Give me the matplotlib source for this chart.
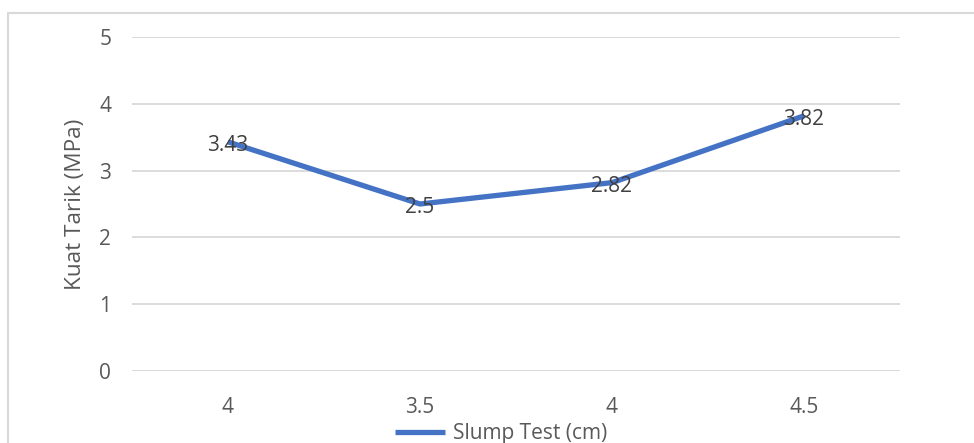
import matplotlib
matplotlib.use("Agg")
import matplotlib.pyplot as plt
from matplotlib.patches import Rectangle

plt.rcParams['font.family'] = ['Open Sans', 'DejaVu Sans']

categories = ["4", "3.5", "4", "4.5"]
kuat_tarik = [3.43, 2.5, 2.82, 3.82]
y_ticks = [0, 1, 2, 3, 4, 5]
series_name = "Slump Test (cm)"
y_label = "Kuat Tarik (MPa)"

line_color = "#4472C4"
grid_color = "#D9D9D9"
tick_color = "#595959"
label_color = "#404040"
fs = 15

fig = plt.figure(figsize=(9.74, 4.43), dpi=100)
W, H = 974, 443
ax = fig.add_axes([132 / W, 1 - 371 / H, (900 - 132) / W, (371 - 37) / H])

x = list(range(len(categories)))
ax.plot(x, kuat_tarik, color=line_color, lw=3.8, solid_capstyle="butt",
        solid_joinstyle="round", zorder=3, label=series_name)
for xi, v in zip(x, kuat_tarik):
    ax.annotate(f"{v:g}", (xi, v), xytext=(0, -2.5), textcoords="offset points",
                ha="center", va="center", fontsize=fs,
                color=label_color, zorder=4)

ax.set_xlim(-0.5, len(categories) - 0.5)
ax.set_ylim(0, 5)
ax.set_yticks(y_ticks)
ax.set_xticks(x)
ax.set_xticklabels(categories)
ax.tick_params(axis="both", length=0, labelsize=fs, labelcolor=tick_color)
ax.tick_params(axis="y", pad=15)
ax.tick_params(axis="x", pad=19)
ax.grid(axis="y", color=grid_color, lw=1.3)
ax.set_axisbelow(True)
for s in ax.spines.values():
    s.set_visible(False)

ax.set_ylabel(y_label, fontsize=16.2, color=tick_color, va="center")
ax.yaxis.set_label_coords((76 - 132) / 768, 0.5)

leg = fig.legend(loc="center", bbox_to_anchor=(501 / W, 1 - 434 / H),
                 frameon=False, fontsize=fs, handlelength=2.4,
                 handletextpad=0.35, labelcolor=tick_color)

# chart border
fig.patches.append(Rectangle((8 / W, -0.1), 1.2, 1 - 13 / H + 0.1,
                             transform=fig.transFigure, fill=False,
                             edgecolor=grid_color, lw=1.5))

fig.savefig("out.png", dpi=100)
